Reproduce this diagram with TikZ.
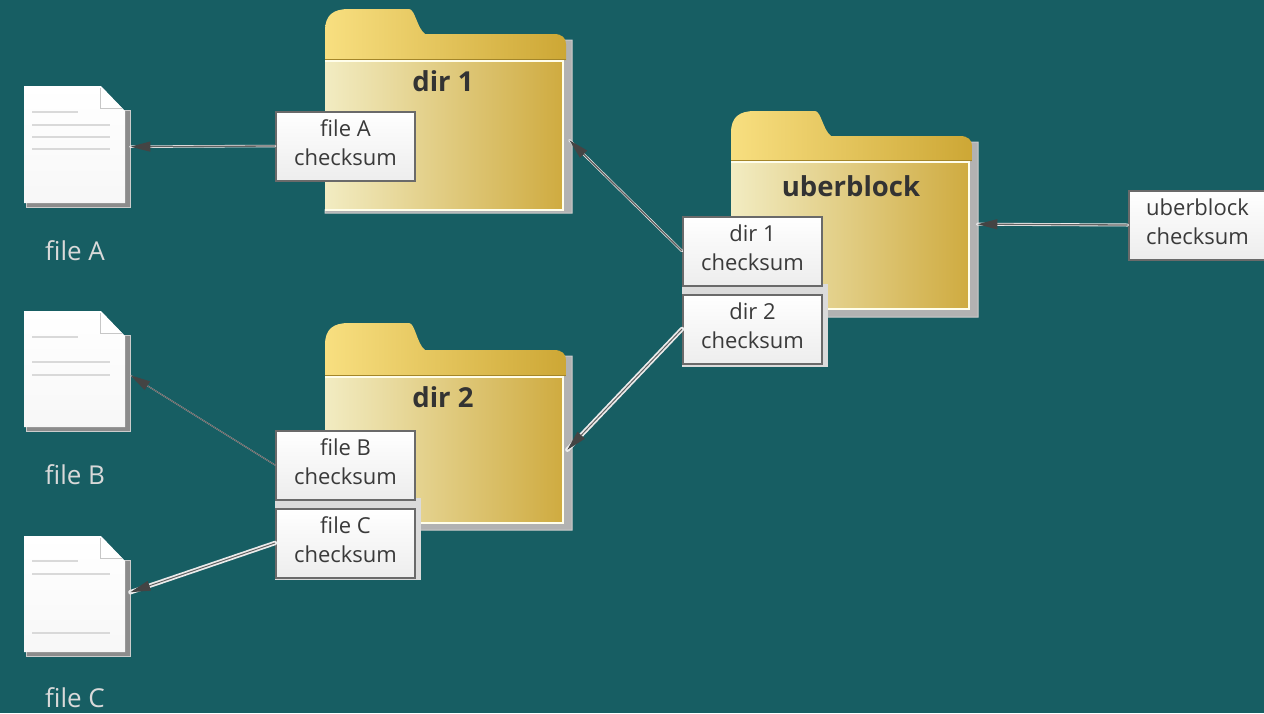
\documentclass[tikz,border=0pt]{standalone}
\usepackage{fontspec}
\setmainfont{Open Sans}
\usetikzlibrary{arrows.meta}
\definecolor{bgc}{HTML}{175E63}
\definecolor{txtc}{HTML}{3A3A3A}
\definecolor{edgec}{HTML}{6A6A6A}
\definecolor{tabl}{HTML}{F8DF80}
\definecolor{tabr}{HTML}{CDA735}
\definecolor{panl}{HTML}{F2ECC2}
\definecolor{panr}{HTML}{CFAB40}
\definecolor{tipc}{HTML}{444444}
\tikzset{
  x=1pt,y=-1pt,
  boxnode/.style={draw=edgec,line width=2pt,top color=white,bottom color=black!7,align=center,
    text=txtc,font=\fontsize{22}{29}\selectfont,minimum width=139pt,minimum height=69pt,inner sep=0pt,anchor=north west},
  panelnode/.style={draw=none,left color=panl,right color=panr,inner sep=0pt,anchor=north west},
  paneledge/.style={draw=white!92!yellow,line width=2pt},
  tabshape/.style={left color=tabl,right color=tabr,draw=none},
  bandline/.style={draw=tabr!80!black,line width=1pt},
  titlenode/.style={font=\fontsize{27.5}{30}\selectfont\bfseries,text=black!80,inner sep=0pt},
  foldershadow/.style={fill=black!30,draw=white!80!black,line width=1pt},
  docshadow/.style={fill=black!45,draw=white!80!black,line width=.8pt},
  docbody/.style={top color=white,bottom color=black!3,draw=none},
  docfold/.style={draw=black!22,line width=1pt},
  docline/.style={draw=black!15,line width=1.4pt},
  docnode/.style={inner sep=0pt,anchor=north west},
  filelabel/.style={font=\fontsize{26}{28}\selectfont,text=white!85!black,inner sep=0pt},
  wirewhite/.style={draw=white!92!black,line cap=round},
  wiregray/.style={draw=black!62,-{Triangle[length=20pt,width=10pt,fill=tipc,color=tipc]}},
  boxhalo/.style={fill=black!14,draw=none},
}
\newcommand{\boxtext}[2]{#1\\#2\rule[-6pt]{0pt}{0pt}}
% #1 name, #2 top, #3 bottom, #4 first line y, #5 second, #6 third, #7 fourth
\newcommand{\filedoc}[7]{
  \fill[docshadow] (26,#2+24) -- (130,#2+24) -- (130,#3+4) -- (26,#3+4) -- cycle;
  \path[docbody] (24,#2) -- (101,#2) -- (125,#2+25) -- (125,#3) -- (24,#3) -- cycle;
  \fill[white] (100,#2+1) -- (100,#2+22) -- (122,#2+22) -- cycle;
  \draw[docfold] (100,#2+2) -- (100,#2+22) -- (122,#2+22);
  \draw[docline] (32,#4) -- (78,#4);
  \draw[docline] (32,#5) -- (110,#5);
  \draw[docline] (32,#6) -- (110,#6);
  \ifx&#7&\else\draw[docline] (32,#7) -- (110,#7);\fi
  \node[docnode,minimum width=106pt,minimum height={#3+4-#2}] (#1) at (24,#2) {};
}
% #1 name, #2 left, #3 tab top, #4 notch y, #5 band bottom, #6 panel bottom, #7 right, #8 shadow depth
\newcommand{\folder}[8]{
  \path[foldershadow] (#2+100,#4+6) -- (#7+6,#4+6) -- (#7+6,#6+#8) -- (#2,#6+#8) -- (#2,#6) -- cycle;
  \path[tabshape] (#2,#5+1) -- (#2,#3+22) .. controls (#2,#3+6) and (#2+8,#3) .. (#2+24,#3)
     -- (#2+84,#3) .. controls (#2+90,#3) and (#2+92,#4-6) .. (#2+100,#4)
     -- (#7-12,#4) .. controls (#7-4,#4) and (#7,#4+4) .. (#7,#4+10) -- (#7,#5+1) -- cycle;
  \node[panelnode,minimum width={#7-#2-3},minimum height={#6-#5-1}] (#1) at (#2,#5+1) {};
  \draw[paneledge] (#2,#5+2) -- (#7-3,#5+2) -- (#7-3,#6) -- (#2,#6);
  \draw[bandline] (#2,#5) -- (#7,#5);
}
\begin{document}
\begin{tikzpicture}
\path[fill=bgc] (0,0) rectangle (1264,713);
\useasboundingbox (0,0) rectangle (1264,713);

\filedoc{fileA}{86}{203}{112}{125}{137}{149}
\filedoc{fileB}{311}{427}{337}{362}{375}{}
\filedoc{fileC}{536}{652}{561}{574}{633}{}

\folder{dirA}{325}{9}{34}{59}{210}{566}{3}
\folder{dirB}{325}{323}{350}{375}{523}{566}{7}
\folder{dirU}{731}{111}{136}{160}{309}{972}{8}

\node[titlenode] (titleA) at (443,81) {dir 1};
\node[titlenode] (titleB) at (443,397) {dir 2};
\node[titlenode] (titleU) at (851,186) {uberblock};

\fill[boxhalo] (275,498) rectangle (421,580);
\fill[boxhalo] (682,284) rectangle (828,367);

\node[boxnode] (boxA) at (275,110.5) {\boxtext{file A}{checksum}};
\node[boxnode] (boxB) at (275,429.5) {\boxtext{file B}{checksum}};
\node[boxnode] (boxC) at (275,507.5) {\boxtext{file C}{checksum}};
\node[boxnode] (boxD) at (682,215.5) {\boxtext{dir 1}{checksum}};
\node[boxnode] (boxE) at (682,293.5) {\boxtext{dir 2}{checksum}};
\node[boxnode,minimum width=138pt] (boxU) at (1127.5,189.5) {\boxtext{uberblock}{checksum}};

\node[filelabel] (labelA) at (75,251) {file A};
\node[filelabel] (labelB) at (75,475) {file B};
\node[filelabel] (labelC) at (75,698) {file C};

% connectors
\draw[wirewhite,line width=2.5pt] (boxA.west) -- (fileA.east);
\draw[wiregray,line width=1.3pt] (boxA.west) -- (fileA.east);
\draw[wirewhite,line width=1pt] (boxB.west) -- ([yshift=-4pt]fileB.east);
\draw[wiregray,line width=1pt] (boxB.west) -- ([yshift=-4pt]fileB.east);
\draw[wirewhite,line width=4.5pt] (boxC.west) -- ([yshift=4pt]fileC.east);
\draw[wiregray,line width=1pt] (boxC.west) -- ([yshift=4pt]fileC.east);
\draw[wirewhite,line width=2.5pt] (boxD.west) -- ([yshift=-5pt,xshift=6pt]dirA.east);
\draw[wiregray,line width=1.3pt] (boxD.west) -- ([yshift=-5pt,xshift=6pt]dirA.east);
\draw[wirewhite,line width=4.5pt] (boxE.west) -- ([xshift=4pt]dirB.east);
\draw[wiregray,line width=1pt] (boxE.west) -- ([xshift=4pt]dirB.east);
\draw[wirewhite,line width=3pt] (boxU.west) -- ([yshift=11pt,xshift=8pt]dirU.east);
\draw[wiregray,line width=1.3pt] (boxU.west) -- ([yshift=11pt,xshift=8pt]dirU.east);
\end{tikzpicture}
\end{document}
